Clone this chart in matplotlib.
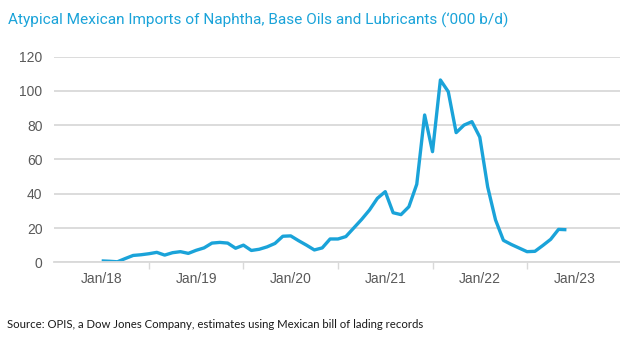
import matplotlib
matplotlib.use("Agg")
import matplotlib.pyplot as plt
from matplotlib.ticker import FixedLocator

# Monthly imports, Jan 2018 - Dec 2022 ('000 b/d)
months = [f"{m}/{y}" for y in range(18, 23) for m in range(1, 13)]
imports = [
    0.8, 0.6, 0.3, 2.2, 4.0, 4.4, 5.0, 5.8, 4.2, 5.6, 6.2, 5.2,   # 2018
    7.0, 8.4, 11.2, 11.6, 11.2, 8.2, 10.0, 6.9, 7.6, 9.0, 11.0, 15.2,  # 2019
    15.4, 12.6, 10.0, 7.2, 8.4, 13.6, 13.6, 15.0, 20.0, 25.0, 30.5, 37.3,  # 2020
    41.2, 28.9, 27.8, 32.4, 45.5, 85.9, 64.5, 106.3, 99.5, 75.6, 80.0, 82.0,  # 2021
    73.0, 44.0, 24.7, 12.8, 10.4, 8.3, 6.2, 6.4, 9.8, 13.4, 19.2, 19.0,  # 2022
]
tick_labels = ["Jan/18", "Jan/19", "Jan/20", "Jan/21", "Jan/22", "Jan/23"]

plt.rcParams["font.family"] = ["Liberation Sans", "DejaVu Sans"]

fig = plt.figure(figsize=(6.2, 3.45), dpi=100)
ax = fig.add_axes([53.6 / 620, (345 - 262.3) / 345, (620 - 53.6) / 620, (262.3 - 56.5) / 345])

x = list(range(len(imports)))
ax.plot(x, imports, color="#1AA3D9", lw=2.4, solid_joinstyle="round", solid_capstyle="butt")

ax.set_ylim(0, 120)
ax.set_xlim(-6.1, 65.8)
ax.set_yticks(range(0, 121, 20))
ax.yaxis.grid(True, color="#D9D9D9", lw=1.3)
ax.set_axisbelow(True)

# labels sit on each January, tick marks fall between years
ax.set_xticks([12 * i for i in range(len(tick_labels))])
ax.set_xticklabels(tick_labels)
ax.xaxis.set_minor_locator(FixedLocator([6 + 12 * i for i in range(6)]))
ax.tick_params(axis="x", which="major", length=0, pad=7, labelsize=10, labelcolor="#595959")
ax.tick_params(axis="x", which="minor", length=5, width=1, color="#D9D9D9", direction="out")
ax.tick_params(axis="y", length=0, pad=8, labelsize=10, labelcolor="#595959")

for side in ["top", "right", "left"]:
    ax.spines[side].set_visible(False)
ax.spines["bottom"].set_color("#D9D9D9")
ax.spines["bottom"].set_linewidth(1.3)

title = fig.text(8 / 620, 1 - 20 / 345,
                 "Atypical Mexican Imports of Naphtha, Base Oils and Lubricants (\u2018000 b/d)",
                 color="#1AA3D9", fontsize=14, family=["Roboto", "DejaVu Sans"],
                 va="center", ha="left")
fig.text(7 / 620, 1 - 325 / 345, "Source: OPIS, a Dow Jones Company, estimates using Mexican bill of lading records",
         color="#1A1A1A", fontsize=8.2, family=["Lato", "DejaVu Sans"], va="center", ha="left")

# shrink the title so it ends around x=510 px
fig.canvas.draw()
w = title.get_window_extent().width
title.set_fontsize(14 * 502 / w)

fig.savefig("out.png", dpi=100)
